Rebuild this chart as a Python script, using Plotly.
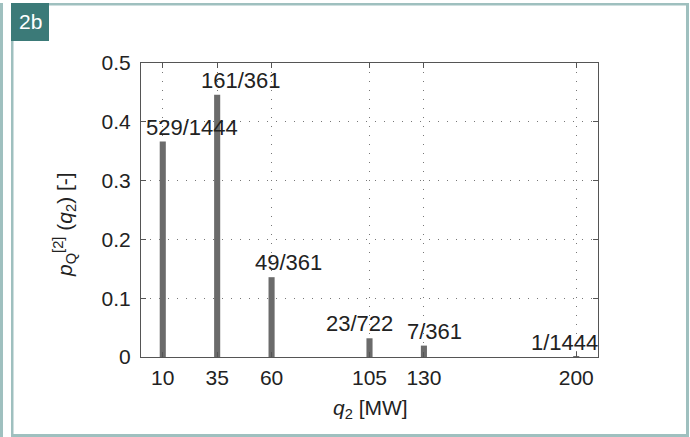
import plotly.graph_objects as go

# ---- data ----
q_values = [10, 35, 60, 105, 130, 200]
prob_values = [529/1444, 161/361, 49/361, 23/722, 7/361, 1/1444]
prob_labels = ["529/1444", "161/361", "49/361", "23/722", "7/361", "1/1444"]
x_ticks = [10, 35, 60, 105, 130, 200]
y_ticks = [0, 0.1, 0.2, 0.3, 0.4, 0.5]
y_tick_text = ["0", "0.1", "0.2", "0.3", "0.4", "0.5"]

# ---- style ----
W, H = 690, 437
L, R, T, B = 141, 598, 63, 357
label_dx = [-19, -18, -19, -46, -19, -47]
FONT = "Liberation Sans, Arial, sans-serif"
frame_col = "#9fc0bf"
teal = "#3b7a78"


def px(x):
    return (x - L) / (R - L)


def py(y):
    return (B - y) / (B - T)


fig = go.Figure()
fig.add_trace(go.Bar(x=q_values, y=prob_values, width=2.8,
                     marker=dict(color="#6b6b6b", line=dict(width=0)),
                     hoverinfo="skip"))

annotations = []
for q, p, lab, dx in zip(q_values, prob_values, prob_labels, label_dx):
    annotations.append(dict(x=q, y=p, xref="x", yref="y", text=lab,
                            showarrow=False, xanchor="left", yanchor="bottom",
                            xshift=dx, yshift=0,
                            font=dict(family=FONT, size=22, color="#222")))

# y axis title
annotations.append(dict(x=px(65), y=py(225), xref="paper", yref="paper",
                        text="<i>p</i><sub>Q</sub><sup>[2]</sup> (<i>q</i><sub>2</sub>) [-]",
                        textangle=-90, showarrow=False,
                        xanchor="center", yanchor="middle",
                        font=dict(family=FONT, size=21, color="#222")))
# x axis title
annotations.append(dict(x=px(370), y=py(409), xref="paper", yref="paper",
                        text="<i>q</i><sub>2</sub> [MW]", showarrow=False,
                        xanchor="center", yanchor="middle",
                        font=dict(family=FONT, size=21, color="#222")))
# panel label
annotations.append(dict(x=px(30), y=py(22), xref="paper", yref="paper",
                        text="2b", showarrow=False,
                        xanchor="center", yanchor="middle",
                        font=dict(family=FONT, size=21, color="white")))

shapes = [
    # panel label box
    dict(type="rect", xref="paper", yref="paper", x0=px(11), x1=px(49),
         y0=py(3), y1=py(41), fillcolor=teal, line=dict(width=0), layer="below"),
    # outer left
    dict(type="rect", xref="paper", yref="paper", x0=px(0), x1=px(3),
         y0=py(3), y1=py(437), fillcolor=frame_col, line=dict(width=0)),
    # inner left
    dict(type="rect", xref="paper", yref="paper", x0=px(11), x1=px(13.5),
         y0=py(41), y1=py(437), fillcolor=frame_col, line=dict(width=0)),
    # top
    dict(type="rect", xref="paper", yref="paper", x0=px(49), x1=px(689),
         y0=py(3), y1=py(5.5), fillcolor=frame_col, line=dict(width=0)),
    # right
    dict(type="rect", xref="paper", yref="paper", x0=px(686), x1=px(689),
         y0=py(3), y1=py(437), fillcolor=frame_col, line=dict(width=0)),
    # bottom
    dict(type="rect", xref="paper", yref="paper", x0=px(11), x1=px(689),
         y0=py(434), y1=py(437), fillcolor=frame_col, line=dict(width=0)),
]

axis_common = dict(showline=True, linecolor="#555", linewidth=1, mirror="ticks",
                   ticks="inside", ticklen=5, tickcolor="#555",
                   showgrid=True, gridcolor="#777", griddash="1px,8px", gridwidth=1,
                   zeroline=False,
                   tickfont=dict(family=FONT, size=21, color="#222"))

fig.update_layout(
    width=W, height=H,
    margin=dict(l=L, r=W - R, t=T, b=H - B, pad=0),
    paper_bgcolor="white", plot_bgcolor="white",
    showlegend=False,
    xaxis=dict(range=[0, 210], tickvals=x_ticks, ticklabelstandoff=2, **axis_common),
    yaxis=dict(range=[0, 0.5], tickvals=y_ticks, ticktext=y_tick_text,
               ticklabelstandoff=5, **axis_common),
    annotations=annotations,
    shapes=shapes,
    font=dict(family=FONT),
)

fig.write_html("out.html")
